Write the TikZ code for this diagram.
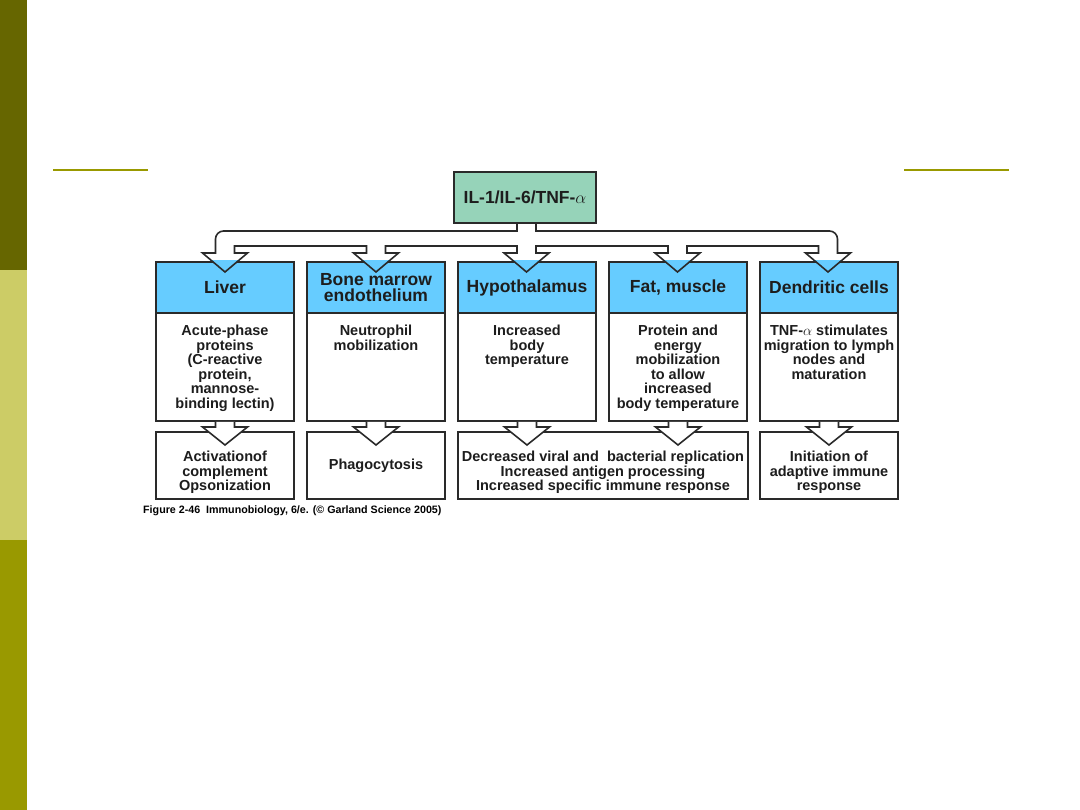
\documentclass[tikz,border=0pt]{standalone}
\usepackage{fontspec}
\setmainfont{Liberation Sans}
\usetikzlibrary{positioning, calc}
\definecolor{olivaOscuro}{HTML}{666600}
\definecolor{olivaClaro}{HTML}{CCCC66}
\definecolor{olivaMedio}{HTML}{999900}
\definecolor{verdeCitocina}{HTML}{96D3B9}
\definecolor{azulOrgano}{HTML}{66CCFF}
\definecolor{grisBorde}{HTML}{2A2A2A}
\colorlet{colBorde}{grisBorde}
\colorlet{colTexto}{grisBorde!70!black}
\colorlet{colCitocina}{verdeCitocina}
\colorlet{colOrgano}{azulOrgano}
\tikzset{
  cajaBase/.style={
    draw=colBorde, line width=1.6pt, inner sep=0pt, outer sep=0pt,
    align=center, text=colTexto,
    font=\bfseries\fontsize{14.5}{14.5}\selectfont
  },
  cajaCitocina/.style={cajaBase, fill=colCitocina, minimum width=142pt,
    minimum height=51pt, font=\bfseries\fontsize{17.5}{16}\selectfont},
  cajaOrgano/.style={cajaBase, fill=colOrgano, minimum width=138pt,
    minimum height=51pt, font=\bfseries\fontsize{17.5}{16}\selectfont},
  cajaCuerpo/.style={cajaBase, fill=white, minimum width=138pt, minimum height=108pt},
  cajaResultado/.style={cajaBase, fill=white, minimum width=138pt, minimum height=67pt},
  textoCuerpo/.style={align=center, inner sep=0pt, text=colTexto,
    font=\bfseries\fontsize{14.5}{14.5}\selectfont},
  flechaBloque/.style={draw=colBorde, line width=1.6pt, line join=miter},
  lineaTitulo/.style={draw=olivaMedio, line width=2.5pt},
  pieFigura/.style={anchor=west, inner sep=0pt, text=black,
    font=\bfseries\fontsize{10.7}{12}\selectfont},
}
% punta de la flecha ancha que baja a cada caja
\newcommand{\puntaColector}[1]{-- (#1-9.5,253) -- (#1-22.5,253) -- (#1,272) -- (#1+22.5,253) -- (#1+9.5,253)}
\newcommand{\rutaColector}{(517,223) -- (517,231) -- (223.5,231)
  arc[start angle=270, end angle=180, radius=8] \puntaColector{225}
  -- (234.5,246) -- (366.5,246) \puntaColector{376}
  -- (385.5,246) -- (517,246) \puntaColector{526.5}
  -- (536,246) -- (668,246) \puntaColector{677.5}
  -- (687,246) -- (818.5,246) \puntaColector{828}
  -- (837.5,239) arc[start angle=0, end angle=-90, radius=8]
  -- (536,231) -- (536,223)}

\begin{document}
\begin{tikzpicture}[x=1pt, y=-1pt, node distance=13pt]
    \fill[white] (0,0) rectangle (1080,810);
    % barra lateral
    \fill[olivaOscuro] (0,0) rectangle (27,270);
    \fill[olivaClaro] (0,270) rectangle (27,540);
    \fill[olivaMedio] (0,540) rectangle (27,810);
    \draw[lineaTitulo] (53,170) -- (148,170);
    \draw[lineaTitulo] (904,170) -- (1009,170);

    \node[cajaCitocina] (citocina) at (525,197.5) {IL-1/IL-6/TNF-$\alpha$};

    \node[cajaOrgano] (higado) at (225,287.5) {Liver};
    \node[cajaOrgano, right=of higado] (medula) {Bone marrow\\endothelium};
    \node[cajaOrgano, right=of medula] (hipo) {Hypothalamus};
    \node[cajaOrgano, right=of hipo] (grasa) {Fat, muscle};
    \node[cajaOrgano, right=of grasa] (dendri) {Dendritic cells};

    \node[cajaCuerpo, below=0pt of higado] (higadoCuerpo) {};
    \node[cajaCuerpo, below=0pt of medula] (medulaCuerpo) {};
    \node[cajaCuerpo, below=0pt of hipo] (hipoCuerpo) {};
    \node[cajaCuerpo, below=0pt of grasa] (grasaCuerpo) {};
    \node[cajaCuerpo, below=0pt of dendri] (dendriCuerpo) {};

    \node[textoCuerpo, below=12pt of higadoCuerpo.north] (higadoTexto)
      {Acute-phase\\proteins\\(C-reactive\\protein,\\mannose-\\binding lectin)};
    \node[textoCuerpo, below=12pt of medulaCuerpo.north] (medulaTexto)
      {Neutrophil\\mobilization};
    \node[textoCuerpo, below=12pt of hipoCuerpo.north] (hipoTexto)
      {Increased\\body\\temperature};
    \node[textoCuerpo, below=12pt of grasaCuerpo.north] (grasaTexto)
      {Protein and\\energy\\mobilization\\to allow\\increased\\body temperature};
    \node[textoCuerpo, below=12pt of dendriCuerpo.north] (dendriTexto)
      {TNF-$\alpha$ stimulates\\migration to lymph\\nodes and\\maturation};

    \node[cajaResultado, below=11pt of higadoCuerpo] (higadoRes) {};
    \node[cajaResultado, below=11pt of medulaCuerpo] (medulaRes) {Phagocytosis};
    \node[cajaResultado, minimum width=290pt,
      below right=11pt and 0pt of hipoCuerpo.south west] (fiebreRes) {};
    \node[cajaResultado, below=11pt of dendriCuerpo] (dendriRes) {};

    % flechas anchas hacia los resultados
    \foreach \n in {higado,medula,hipo,grasa,dendri}
      \draw[flechaBloque, fill=white] ($(\n Cuerpo.south)+(-9.5,1)$) -- ++(0,5)
        -- ++(-13,0) -- ++(22.5,18) -- ++(22.5,-18) -- ++(-13,0) -- ++(0,-5);

    \node[textoCuerpo, below=19pt of higadoRes.north] (higadoResTexto)
      {Activationof\\complement\\Opsonization};
    \node[textoCuerpo, below=19pt of fiebreRes.north] (fiebreResTexto)
      {Decreased viral and\ \ bacterial replication\\Increased antigen processing\\Increased specific immune response};
    \node[textoCuerpo, below=19pt of dendriRes.north] (dendriResTexto)
      {Initiation of\\adaptive immune\\response};

    % colector desde las citocinas
    \begin{scope}
      \clip (150,261) rectangle (905,300);
      \fill[colOrgano] \rutaColector;
    \end{scope}
    \draw[flechaBloque] \rutaColector;

    \node[pieFigura] (pie) at (143,511)
      {Figure 2-46\ \ Immunobiology, 6/e. (© Garland Science 2005)};
\end{tikzpicture}
\end{document}
